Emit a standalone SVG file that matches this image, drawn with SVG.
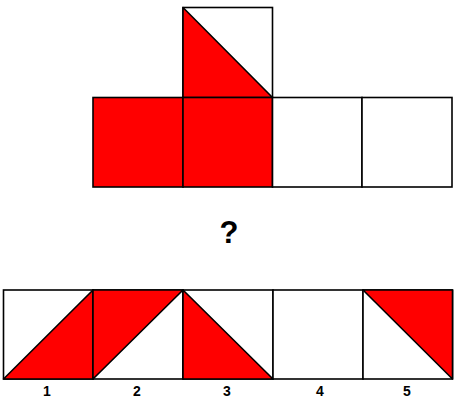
<svg xmlns="http://www.w3.org/2000/svg" width="458" height="416" viewBox="0 0 458 416">
<style>
.sq{fill:#fff;stroke:#000;stroke-width:1.6}
.red{fill:#f00}
.tri{fill:#f00;stroke:#000;stroke-width:1.6;stroke-linejoin:round}
.lbl{font-family:"Liberation Sans",Arial,sans-serif;font-weight:bold;font-size:14px;text-anchor:middle;fill:#000}
</style>
<rect width="458" height="416" fill="#fff"/>
<g id="net">
<g id="net-top"><rect class="sq" x="183" y="7.5" width="89.5" height="90"/><polygon class="tri" points="183,7.5 183,97.5 272.5,97.5"/></g>
<g id="net-1"><rect class="sq red" x="93" y="97.5" width="90" height="89.5"/></g>
<g id="net-2"><rect class="sq red" x="183" y="97.5" width="89.5" height="89.5"/></g>
<g id="net-3"><rect class="sq" x="272.5" y="97.5" width="89.5" height="89.5"/></g>
<g id="net-4"><rect class="sq" x="362" y="97.5" width="90" height="89.5"/></g>
</g>
<g id="question"><text x="229" y="243" font-family="Liberation Sans, Arial, sans-serif" font-weight="bold" font-size="31" text-anchor="middle">?</text></g>
<g id="opt1"><rect class="sq" x="3.5" y="290" width="89.5" height="89"/><polygon class="tri" points="3.5,379 93,290 93,379"/><text class="lbl" x="47" y="396">1</text></g>
<g id="opt2"><rect class="sq" x="93" y="290" width="90" height="89"/><polygon class="tri" points="93,290 183,290 93,379"/><text class="lbl" x="137" y="396">2</text></g>
<g id="opt3"><rect class="sq" x="183" y="290" width="90" height="89"/><polygon class="tri" points="183,290 183,379 273,379"/><text class="lbl" x="227" y="396">3</text></g>
<g id="opt4"><rect class="sq" x="273" y="290" width="90" height="89"/><text class="lbl" x="320" y="396">4</text></g>
<g id="opt5"><rect class="sq" x="363" y="290" width="89.5" height="89"/><polygon class="tri" points="363,290 452.5,290 452.5,379"/><text class="lbl" x="407" y="396">5</text></g>
<g id="connectors"/>
</svg>
